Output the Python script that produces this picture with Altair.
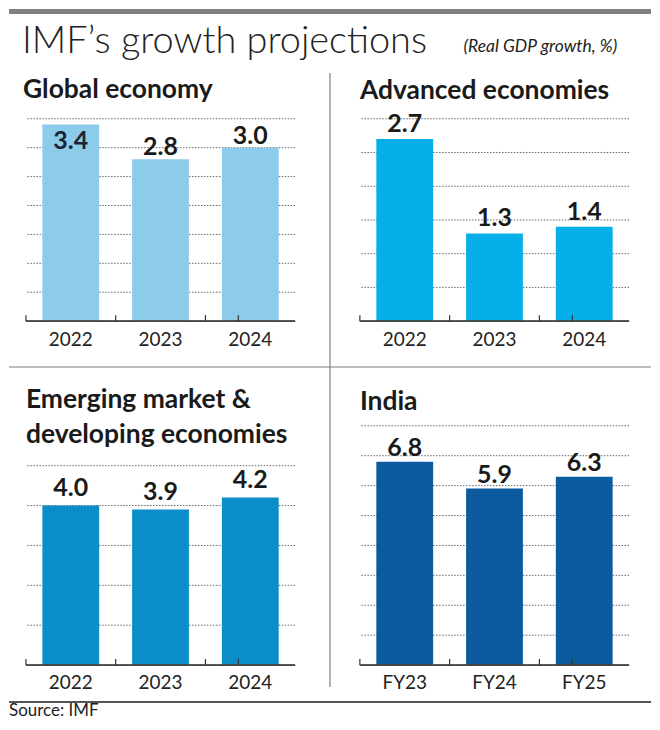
import altair as alt
import pandas as pd

TITLE = "IMF’s growth projections"
SUBTITLE = "(Real GDP growth, %)"
SOURCE = "Source: IMF"

panel_titles = ["Global economy", "Advanced economies",
                "Emerging market &\ndeveloping economies", "India"]
years = ["2022", "2023", "2024"]
fy_labels = ["FY23", "FY24", "FY25"]
global_vals = [3.4, 2.8, 3.0]
advanced_vals = [2.7, 1.3, 1.4]
emerging_vals = [4.0, 3.9, 4.2]
india_vals = [6.8, 5.9, 6.3]

global_grid = [0.5, 1.0, 1.5, 2.0, 2.5, 3.0, 3.5]
advanced_grid = [0.5, 1.0, 1.5, 2.0, 2.5, 3.0]
emerging_grid = [1, 2, 3, 4, 5]
india_grid = [1, 2, 3, 4, 5, 6, 7, 8]

FONT = "Lato"
W = 270
P_IN, P_OUT = 0.367, 0.183
HALF_GAP = 16.5  # half the gap between bars, in pixels


def one(value):
    return alt.Chart(pd.DataFrame({"t": [value]}))


def panel(title, cats, vals, color, ymax, grid, height, dy, tx, ty, extra=()):
    df = pd.DataFrame({"cat": cats, "value": vals})
    base = alt.Chart(df)
    xs = alt.Scale(paddingInner=P_IN, paddingOuter=P_OUT)
    ys = alt.Scale(domain=[0, ymax], nice=False, zero=True)
    x = alt.X("cat:N", sort=cats, title=None, scale=xs,
              axis=alt.Axis(labelAngle=0, labelFont=FONT, labelFontSize=19,
                            labelColor="#222", domain=False, ticks=False,
                            labelPadding=9, grid=False))
    y = alt.Y("value:Q", title=None, scale=ys, axis=None)
    gridlines = alt.Chart(pd.DataFrame({"g": grid})).mark_rule(
        color="#666", strokeWidth=1, strokeDash=[1.5, 1.5]).encode(
        y=alt.Y("g:Q", scale=ys, axis=None))
    bars = base.mark_bar(color=color).encode(x=x, y=y)
    baseline = base.mark_rule(color="#444", strokeWidth=1.2).encode(y=alt.datum(0))
    ticks_l = base.mark_rule(color="#333", strokeWidth=1.2).encode(
        x=alt.X("cat:N", sort=cats, bandPosition=0),
        xOffset=alt.value(-HALF_GAP),
        y=alt.value(height - 6), y2=alt.value(height))
    ticks_r = base.transform_filter(f"datum.cat == '{cats[-1]}'").mark_rule(
        color="#333", strokeWidth=1.2).encode(
        x=alt.X("cat:N", sort=cats, bandPosition=1),
        xOffset=alt.value(HALF_GAP),
        y=alt.value(height - 6), y2=alt.value(height))
    lab_out = base.transform_filter(f"datum.value <= {ymax} - 0.2").mark_text(
        font=FONT, fontWeight="bold", fontSize=25, color="#1a1a1a",
        baseline="alphabetic", dy=dy).encode(
        x=alt.X("cat:N", sort=cats), y="value:Q",
        text=alt.Text("value:Q", format=".1f"))
    lab_in = base.transform_filter(f"datum.value > {ymax} - 0.2").mark_text(
        font=FONT, fontWeight="bold", fontSize=25, color="#1a2433",
        baseline="alphabetic", dy=25).encode(
        x=alt.X("cat:N", sort=cats), y="value:Q",
        text=alt.Text("value:Q", format=".1f"))
    ttl = one(title).mark_text(font=FONT, fontWeight="bold", fontSize=26.5,
                               color="#1a1a1a", align="left",
                               baseline="alphabetic", lineBreak="\n",
                               lineHeight=35).encode(
        text="t:N", x=alt.value(tx), y=alt.value(ty))
    layers = [gridlines, bars, baseline, ticks_l, ticks_r, lab_out, lab_in,
              ttl] + list(extra)
    return alt.layer(*layers).properties(width=W, height=height)


# decorations, positioned relative to the first panel's plot area
top_bar = one("").mark_rect(color="#808080").encode(
    x=alt.value(-17), x2=alt.value(627), y=alt.value(-110), y2=alt.value(-105))
main_title = one(TITLE).mark_text(font=FONT, fontWeight=300, fontSize=38,
                                  color="#222", align="left",
                                  baseline="alphabetic").encode(
    text="t:N", x=alt.value(-4), y=alt.value(-66))
sub_title = one(SUBTITLE).mark_text(font=FONT, fontStyle="italic", fontSize=17.5,
                                    color="#222", align="left",
                                    baseline="alphabetic").encode(
    text="t:N", x=alt.value(439), y=alt.value(-67))
vdiv = one("").mark_rule(color="#9a9a9a", strokeWidth=1.5).encode(
    x=alt.value(305), y=alt.value(-46), y2=alt.value(570))
hdiv = one("").mark_rule(color="#7a7a7a", strokeWidth=1).encode(
    x=alt.value(-17), x2=alt.value(627), y=alt.value(249))
bottom = one("").mark_rule(color="#555", strokeWidth=2).encode(
    x=alt.value(-17), x2=alt.value(627), y=alt.value(585))
source = one(SOURCE).mark_text(font=FONT, fontSize=17, color="#222",
                               align="left", baseline="alphabetic").encode(
    text="t:N", x=alt.value(-17), y=alt.value(599))

p1 = panel(panel_titles[0], years, global_vals, "#8dcbea", 3.5, global_grid,
           203, -4, -3, -21,
           extra=[top_bar, main_title, sub_title, vdiv, hdiv, bottom, source])
p2 = panel(panel_titles[1], years, advanced_vals, "#07afe8", 3.0, advanced_grid,
           203, -7, 0, -20)
p3 = panel(panel_titles[2], years, emerging_vals, "#0b8ec8", 6, emerging_grid,
           240, -10, 0, -18)
p4 = panel(panel_titles[3], fy_labels, india_vals, "#0b5b9e", 8, india_grid,
           240, -6, 0, -16)

chart = alt.concat(p1, p2, p3, p4, columns=2,
                   spacing={"row": 105, "column": 65},
                   bounds="flush").properties(
    padding=0, background="white"
).configure_view(stroke=None)

chart.save("out.html", embed_options={"renderer": "svg", "actions": False})
